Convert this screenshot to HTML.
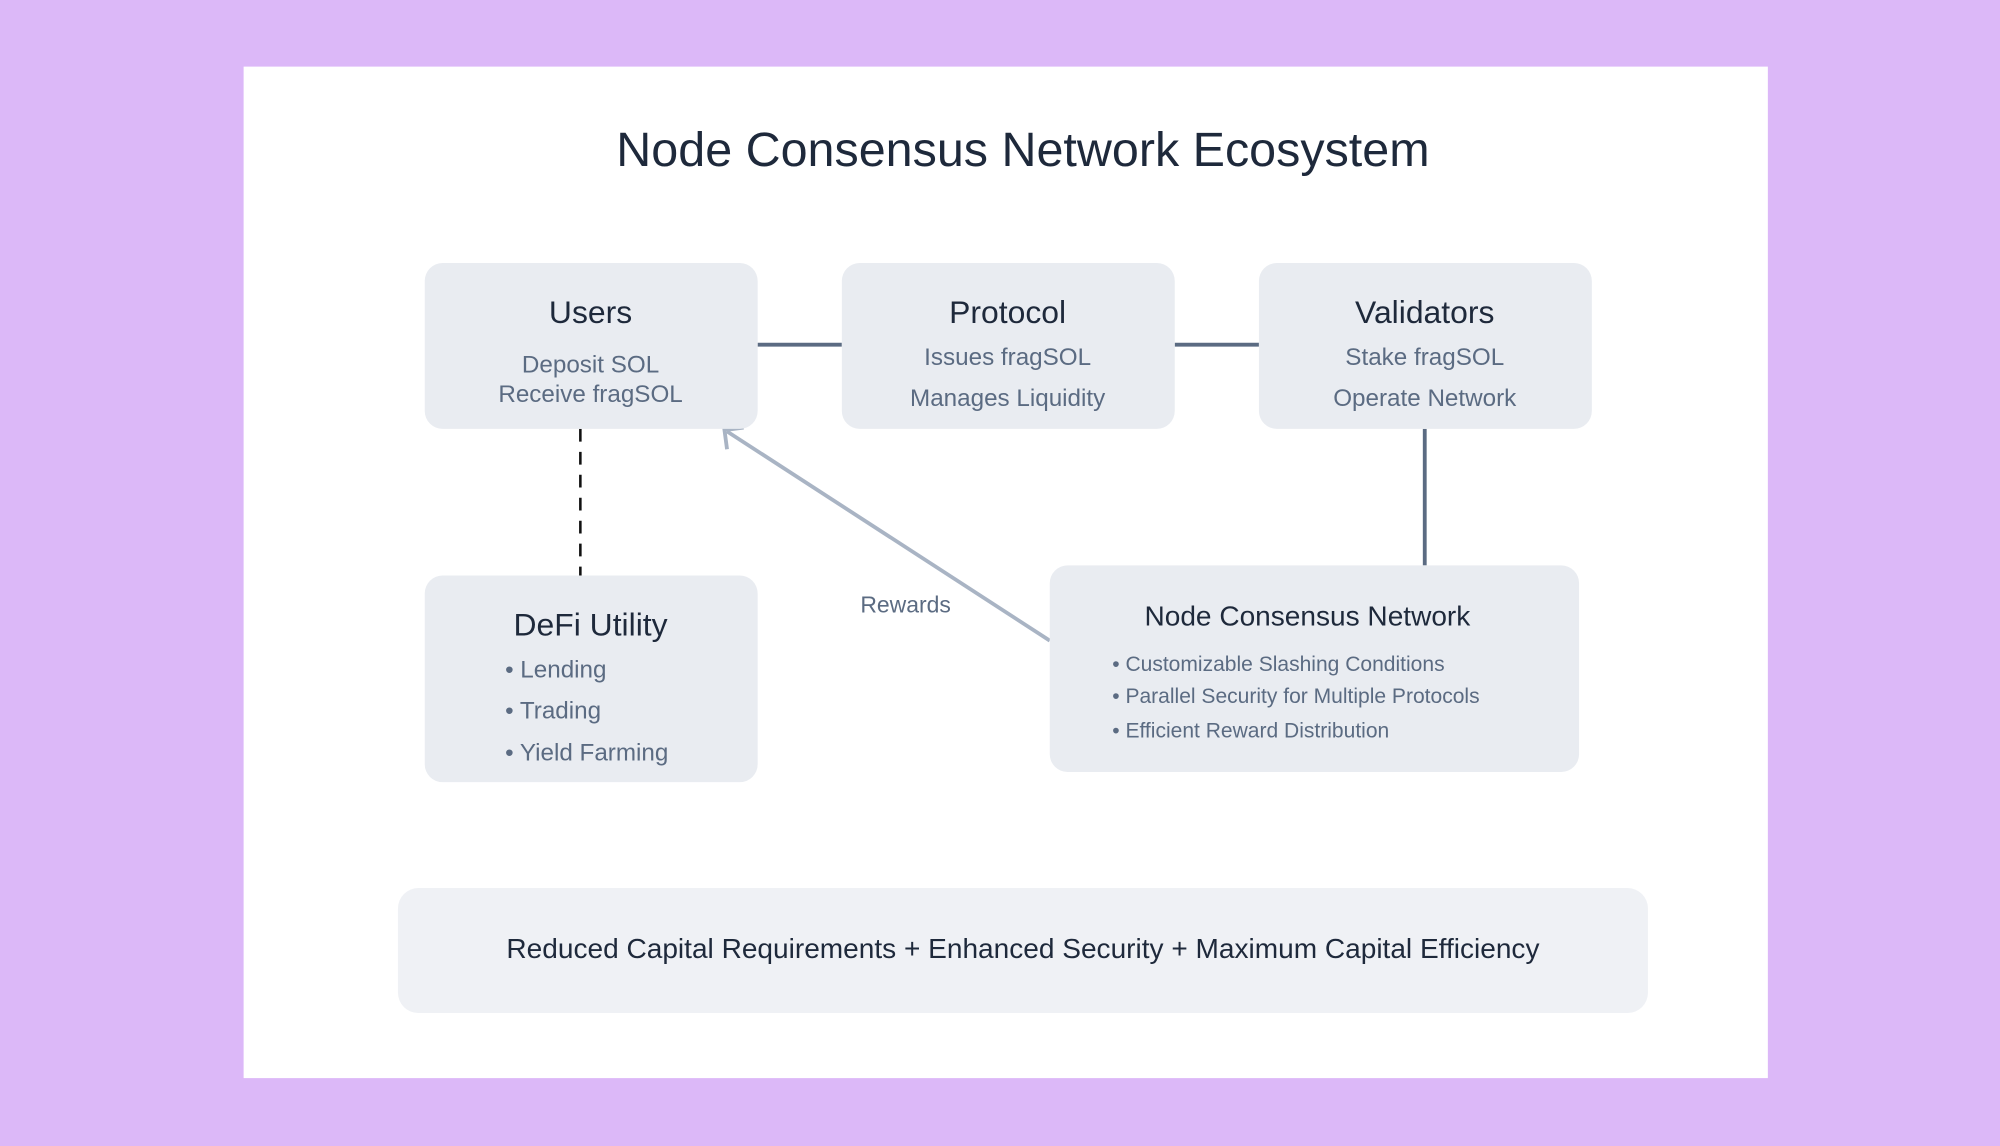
<!DOCTYPE html>
<html><head><meta charset="utf-8"><style>
html,body{margin:0;padding:0;background:#dcb8f8;}
svg{display:block}
text{font-family:"Liberation Sans",Arial,sans-serif;}
</style></head><body>
<svg width="2000" height="1146" viewBox="0 0 1568 898" xmlns="http://www.w3.org/2000/svg">
<rect x="0" y="0" width="1568" height="898" fill="#dcb8f8"/>
<rect x="191" y="52" width="1195" height="793" fill="#ffffff"/>
<text x="802" y="130" text-anchor="middle" font-size="38" fill="#1e293b">Node Consensus Network Ecosystem</text>

<!-- connectors -->
<line x1="594" y1="270" x2="660" y2="270" stroke="#5b6b82" stroke-width="3"/>
<line x1="921" y1="270" x2="987" y2="270" stroke="#5b6b82" stroke-width="3"/>
<line x1="1117" y1="336" x2="1117" y2="443" stroke="#5b6b82" stroke-width="3"/>
<line x1="455" y1="336" x2="455" y2="451" stroke="#111" stroke-width="2" stroke-dasharray="10,8"/>
<line x1="823" y1="502" x2="570" y2="338" stroke="#a9b4c4" stroke-width="3"/>
<polyline points="570,352 568,337 583,335" fill="none" stroke="#a9b4c4" stroke-width="3"/>
<text x="710" y="480" text-anchor="middle" font-size="18" fill="#5b6b82">Rewards</text>

<!-- boxes -->
<rect x="333" y="206" width="261" height="130" rx="14" fill="#e9ecf1"/>
<text x="463" y="253" text-anchor="middle" font-size="25" fill="#1e293b">Users</text>
<text x="463" y="292" text-anchor="middle" font-size="19" fill="#5b6b82">Deposit SOL</text>
<text x="463" y="315" text-anchor="middle" font-size="19" fill="#5b6b82">Receive fragSOL</text>

<rect x="660" y="206" width="261" height="130" rx="14" fill="#e9ecf1"/>
<text x="790" y="253" text-anchor="middle" font-size="25" fill="#1e293b">Protocol</text>
<text x="790" y="286" text-anchor="middle" font-size="19" fill="#5b6b82">Issues fragSOL</text>
<text x="790" y="318" text-anchor="middle" font-size="19" fill="#5b6b82">Manages Liquidity</text>

<rect x="987" y="206" width="261" height="130" rx="14" fill="#e9ecf1"/>
<text x="1117" y="253" text-anchor="middle" font-size="25" fill="#1e293b">Validators</text>
<text x="1117" y="286" text-anchor="middle" font-size="19" fill="#5b6b82">Stake fragSOL</text>
<text x="1117" y="318" text-anchor="middle" font-size="19" fill="#5b6b82">Operate Network</text>

<rect x="333" y="451" width="261" height="162" rx="14" fill="#e9ecf1"/>
<text x="463" y="498" text-anchor="middle" font-size="25" fill="#1e293b">DeFi Utility</text>
<text x="396" y="531" font-size="19" fill="#5b6b82">• Lending</text>
<text x="396" y="563" font-size="19" fill="#5b6b82">• Trading</text>
<text x="396" y="596" font-size="19" fill="#5b6b82">• Yield Farming</text>

<rect x="823" y="443" width="415" height="162" rx="14" fill="#e9ecf1"/>
<text x="1025" y="490" text-anchor="middle" font-size="22" fill="#1e293b">Node Consensus Network</text>
<text x="872" y="526" font-size="16.5" fill="#5b6b82">• Customizable Slashing Conditions</text>
<text x="872" y="551" font-size="16.5" fill="#5b6b82">• Parallel Security for Multiple Protocols</text>
<text x="872" y="578" font-size="16.5" fill="#5b6b82">• Efficient Reward Distribution</text>

<rect x="312" y="696" width="980" height="98" rx="16" fill="#eff1f5"/>
<text x="802" y="751" text-anchor="middle" font-size="22" fill="#1e293b">Reduced Capital Requirements + Enhanced Security + Maximum Capital Efficiency</text>
</svg>
</body></html>
